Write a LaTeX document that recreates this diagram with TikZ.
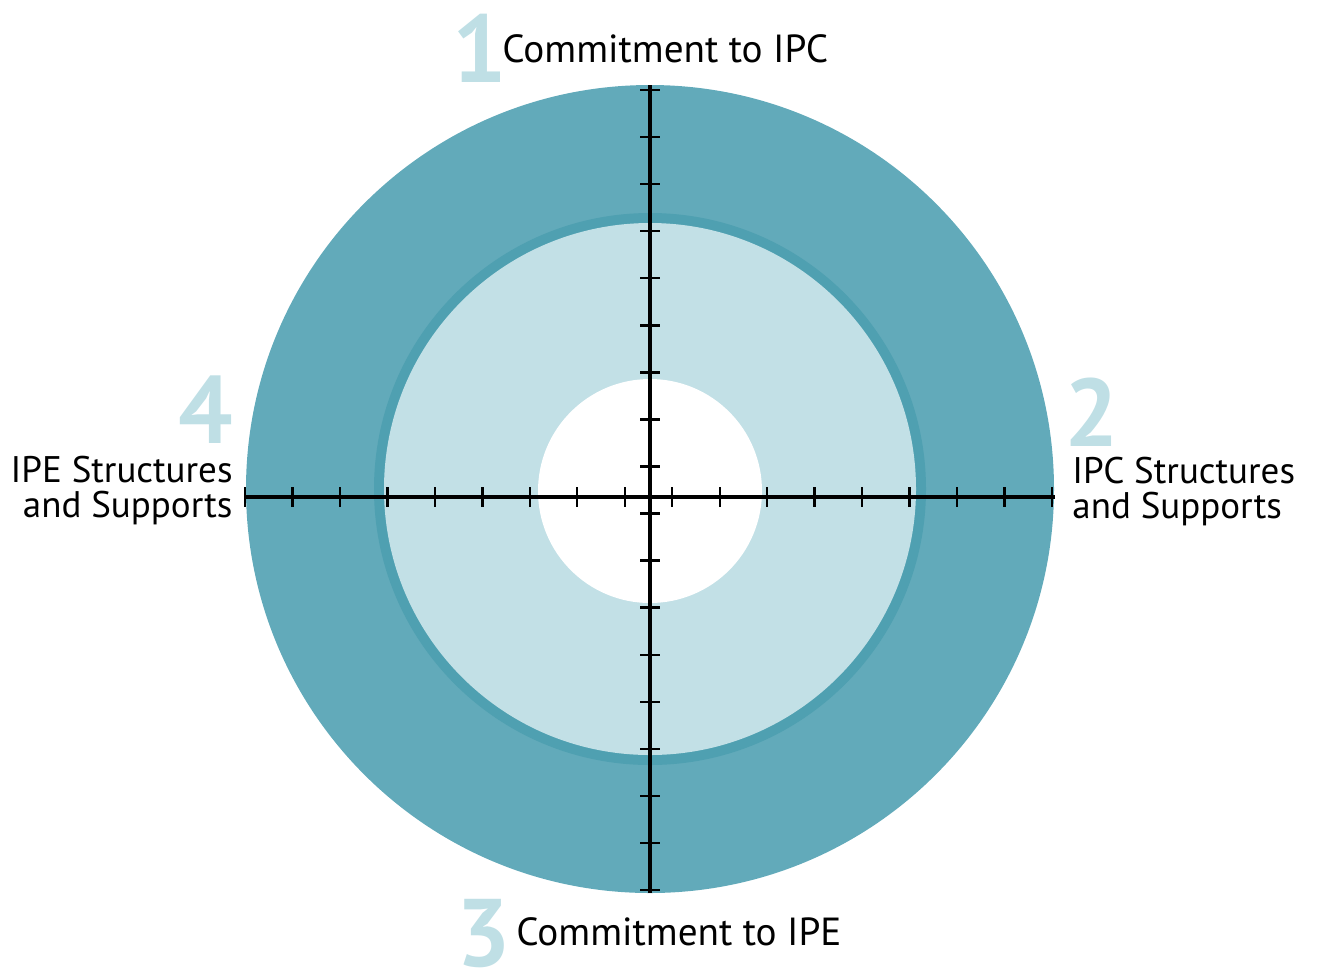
\documentclass[tikz,border=0pt]{standalone}
\usepackage{fontspec}
\setmainfont{PT Sans}
\definecolor{outerc}{HTML}{62AABA}
\definecolor{bandc}{HTML}{4FA0B1}
\definecolor{lightc}{HTML}{C2E0E6}
\definecolor{digitc}{HTML}{BFDFE5}
\tikzset{
  lbl/.style={inner sep=0pt, font=\fontsize{18.5}{17.5}\selectfont, text=black},
  toplbl/.style={inner sep=0pt, font=\fontsize{19.6}{19.6}\selectfont, text=black},
  digit/.style={inner sep=0pt, text depth=0pt, font=\fontsize{48}{48}\selectfont\bfseries, text=digitc},
  axis/.style={line width=1.6pt, black},
  tick/.style={line width=1.2pt, black}
}
\begin{document}
\begin{tikzpicture}[x=0.5pt,y=-0.5pt]
\useasboundingbox (0,0) rectangle (1317,971);
% rings
\fill[outerc] (650,489) circle (202pt);
\fill[bandc] (650,489) circle (138pt);
\fill[lightc] (650,489) circle (133pt);
\fill[white] (650,491) circle (56pt);
% axes
\coordinate (hl) at (245,497);
\coordinate (hr) at (1055,497);
\coordinate (vt) at (650,85);
\coordinate (vb) at (650,893);
\draw[axis] (hl) -- (hr);
\draw[axis] (vt) -- (vb);
\foreach \k in {0,...,17}{
  \draw[tick] ({245+47.47*\k},487) -- ({245+47.47*\k},507);
  \draw[tick] (640,{90+47.06*\k}) -- (660,{90+47.06*\k});
}
% labels
\node[digit, anchor=base west] (d1) at (452,82) {1};
\node[toplbl, anchor=base west] (t1) at (502,62) {Commitment to IPC};
\node[digit, anchor=base west] (d3) at (456,966) {3};
\node[toplbl, anchor=base west] (t3) at (516,945) {Commitment to IPE};
\node[digit, anchor=base east] (d4) at (233,443) {4};
\node[lbl, anchor=base east, align=right] (t4) at (233,517) {IPE Structures\\and Supports};
\node[digit, anchor=base west] (d2) at (1064,446) {2};
\node[lbl, anchor=base west, align=left] (t2) at (1072,518) {IPC Structures\\and Supports};
\end{tikzpicture}
\end{document}
